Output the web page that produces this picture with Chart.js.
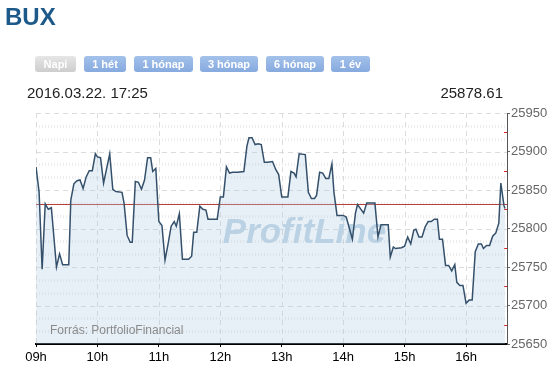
<!DOCTYPE html>
<html>
<head>
<meta charset="utf-8">
<script src="https://cdn.jsdelivr.net/npm/chart.js@4/dist/chart.umd.min.js"></script>
<style>
  body { margin: 0; background: #fff; font-family: Arial, "Liberation Sans", sans-serif; }
  #wrap { position: relative; width: 558px; height: 380px; overflow: hidden; }
  #c { position: absolute; left: 0; top: 0; }
  .abs { position: absolute; line-height: 1; white-space: nowrap; }
  #title { left: 5px; top: 5px; font-size: 24px; font-weight: bold; color: #1d5a8a; }
  .btn { position: absolute; top: 56px; height: 16px; line-height: 16px; border-radius: 3px;
         font-size: 11px; font-weight: bold; color: #fff; text-align: center;
         background: linear-gradient(#a3c1ea, #86aadf); }
  .btn.off { background: linear-gradient(#e6e6e6, #cdcdcd); }
  #stamp { left: 27px; top: 85px; font-size: 15px; color: #222; }
  #last { right: 55px; top: 85px; font-size: 15px; color: #222; }
  #src { left: 50px; top: 324px; font-size: 12px; color: #8a8a8a; }
</style>
</head>
<body>
<div id="wrap">
  <canvas id="c" width="558" height="380"></canvas>
  <div class="abs" id="title">BUX</div>
  <div class="btn off" style="left:35px;width:41px">Napi</div>
  <div class="btn" style="left:84px;width:42px">1 hét</div>
  <div class="btn" style="left:134px;width:59px">1 hónap</div>
  <div class="btn" style="left:200px;width:58px">3 hónap</div>
  <div class="btn" style="left:266px;width:58px">6 hónap</div>
  <div class="btn" style="left:331px;width:39px">1 év</div>
  <div class="abs" id="stamp">2016.03.22. 17:25</div>
  <div class="abs" id="last">25878.61</div>
  <div class="abs" id="src">Forrás: PortfolioFinancial</div>
</div>
<script>
// minutes after 09:00
const times = [0, 3, 6, 9, 12, 15, 20, 23, 26, 32, 34, 37, 40, 43, 46, 49, 52, 55, 58, 60,
  63, 66, 72, 75, 78, 84, 86, 89, 92, 94, 97, 100, 103, 106, 109, 112, 114, 117, 120, 123,
  126, 129, 132, 135, 137, 140, 143, 149, 152, 154, 157, 160, 163, 166, 168, 177, 180, 183, 186, 189,
  192, 197, 203, 206, 208, 211, 214, 217, 220, 223, 226, 231, 234, 237, 240, 246, 249, 252, 254, 257,
  263, 266, 269, 272, 274, 277, 280, 283, 286, 289, 291, 294, 300, 303, 309, 312, 314, 320, 323, 326,
  331, 334, 337, 344, 346, 349, 351, 357, 360, 363, 366, 369, 371, 374, 377, 380, 383, 386, 389, 392,
  394, 397, 400, 403, 406, 409, 411, 414, 417, 420, 423, 426, 429, 432, 435, 437, 440, 443, 446, 449,
  452, 454, 457, 458];
const bux = [25880, 25848, 25747, 25832, 25825, 25827, 25750, 25767, 25753, 25753, 25837, 25858, 25862, 25863, 25852, 25867, 25875, 25875, 25897, 25893,
  25892, 25859, 25897, 25851, 25848, 25847, 25833, 25791, 25782, 25782, 25861, 25860, 25851, 25863, 25892, 25892, 25874, 25878, 25809, 25804,
  25759, 25780, 25803, 25809, 25803, 25819, 25760, 25760, 25764, 25795, 25795, 25829, 25825, 25824, 25812, 25812, 25841, 25841, 25880, 25872,
  25873, 25873, 25874, 25907, 25918, 25918, 25909, 25910, 25909, 25886, 25886, 25887, 25877, 25870, 25841, 25841, 25874, 25872, 25867, 25897,
  25896, 25847, 25839, 25839, 25843, 25873, 25872, 25865, 25865, 25884, 25847, 25817, 25817, 25815, 25786, 25820, 25831, 25820, 25833, 25833,
  25833, 25789, 25805, 25805, 25763, 25776, 25774, 25775, 25777, 25789, 25780, 25798, 25799, 25789, 25789, 25802, 25809, 25809, 25812, 25812,
  25786, 25786, 25752, 25752, 25745, 25753, 25730, 25726, 25726, 25703, 25707, 25707, 25770, 25780, 25780, 25774, 25778, 25778, 25790, 25794,
  25807, 25859, 25830, 25826];
const prevClose = 25832;
const hourTicks = [0, 60, 120, 180, 240, 300, 360, 420];
const hourLabels = ['09h', '10h', '11h', '12h', '13h', '14h', '15h', '16h'];
const yTicks = [25650, 25700, 25750, 25800, 25850, 25900, 25950];

Chart.defaults.font.family = 'Arial, "Liberation Sans", sans-serif';

// grid, watermark and previous close line, drawn behind the series
const backdrop = {
  id: 'backdrop',
  beforeDatasetsDraw(chart) {
    const { ctx, chartArea: a, scales: { x, y } } = chart;
    ctx.save();
    // striped minor rows
    ctx.strokeStyle = 'rgba(0,0,0,0.07)';
    ctx.lineWidth = 3;
    ctx.setLineDash([1, 2]);
    for (let i = 0; i < yTicks.length - 1; i++) {
      for (const f of [1 / 3, 2 / 3]) {
        const py = Math.round(y.getPixelForValue(yTicks[i] + 50 * f)) + 0.5;
        ctx.beginPath(); ctx.moveTo(a.left, py); ctx.lineTo(a.right, py); ctx.stroke();
      }
    }
    // dashed major grid
    ctx.strokeStyle = '#dcdcdc';
    ctx.lineWidth = 1;
    ctx.setLineDash([5, 4]);
    yTicks.slice(1).forEach(v => {
      const py = Math.round(y.getPixelForValue(v)) + 0.5;
      ctx.beginPath(); ctx.moveTo(a.left, py); ctx.lineTo(a.right, py); ctx.stroke();
    });
    hourTicks.forEach(v => {
      const px = Math.round(x.getPixelForValue(v)) + 0.5;
      ctx.beginPath(); ctx.moveTo(px, a.top); ctx.lineTo(px, a.bottom); ctx.stroke();
    });
    ctx.setLineDash([]);
    // watermark
    ctx.fillStyle = '#bfd5e4';
    ctx.font = 'italic bold 35px Arial, "Liberation Sans", sans-serif';
    ctx.textAlign = 'center';
    ctx.textBaseline = 'alphabetic';
    ctx.fillText('ProfitLine', a.left + a.width * 0.57, a.top + 130);
    // previous close
    const pc = Math.round(y.getPixelForValue(prevClose)) + 0.5;
    ctx.strokeStyle = '#b8403a';
    ctx.lineWidth = 1;
    ctx.beginPath(); ctx.moveTo(a.left, pc); ctx.lineTo(a.right, pc); ctx.stroke();
    // red minor ticks on the value axis
    ctx.strokeStyle = '#e02020';
    for (let i = 0; i < yTicks.length - 1; i++) {
      const py = Math.round(y.getPixelForValue(yTicks[i] + 25)) + 0.5;
      ctx.beginPath(); ctx.moveTo(a.right - 3, py); ctx.lineTo(a.right, py); ctx.stroke();
    }
    ctx.restore();
  }
};

new Chart(document.getElementById('c'), {
  type: 'line',
  data: {
    datasets: [{
      data: times.map((t, i) => ({ x: t, y: bux[i] })),
      borderColor: '#34506a',
      borderWidth: 1.5,
      backgroundColor: 'rgba(178,204,228,0.3)',
      fill: 'start',
      pointRadius: 0,
      tension: 0
    }]
  },
  options: {
    responsive: false,
    animation: false,
    layout: { padding: { left: 36, top: 113, right: 0, bottom: 0 } },
    plugins: { legend: { display: false }, tooltip: { enabled: false } },
    scales: {
      x: {
        type: 'linear',
        min: 0,
        max: 460,
        afterBuildTicks: s => { s.ticks = hourTicks.map(v => ({ value: v })); },
        afterFit: s => { s.height = 36; },
        grid: { drawOnChartArea: false, tickLength: 3, tickColor: '#000' },
        border: { color: '#000', width: 2 },
        ticks: {
          padding: 3,
          maxRotation: 0,
          color: '#000',
          font: { size: 13 },
          callback: v => hourLabels[hourTicks.indexOf(v)]
        }
      },
      y: {
        position: 'right',
        min: 25650,
        max: 25950,
        afterBuildTicks: s => { s.ticks = yTicks.map(v => ({ value: v })); },
        afterFit: s => { s.width = 51; },
        grid: { drawOnChartArea: false, tickLength: 3, tickColor: '#666' },
        border: { color: '#555', width: 1 },
        ticks: { padding: 1, color: '#666', font: { size: 13 }, callback: v => String(v) }
      }
    }
  },
  plugins: [backdrop]
});
</script>
</body>
</html>
